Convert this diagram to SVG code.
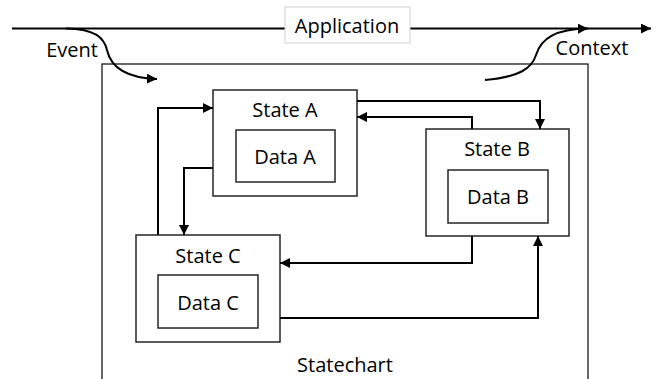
<svg xmlns="http://www.w3.org/2000/svg" width="657" height="379" viewBox="0 0 657 379">
  <style>
    .box { fill: #ffffff; stroke: #262626; stroke-width: 1.5; }
    .frame { fill: none; stroke: #1a1a1a; stroke-width: 1.3; }
    .lbl { font-family: "Open Sans", "Noto Sans", sans-serif; font-size: 20px; fill: #000; text-anchor: middle; }
    .wire { fill: none; stroke: #000; stroke-width: 2; }
  </style>
  <defs>
    <marker id="arrow" viewBox="0 0 10 10" refX="10" refY="5" markerWidth="5" markerHeight="5" orient="auto" markerUnits="strokeWidth">
      <path d="M0,0 L10,5 L0,10 z" fill="#000"/>
    </marker>
  </defs>

  <rect width="657" height="379" fill="#ffffff"/>

  <!-- Statechart frame (extends below the canvas) -->
  <g id="statechart">
    <rect class="frame" x="102" y="64" width="486" height="330"/>
    <text class="lbl" x="345" y="372">Statechart</text>
  </g>

  <!-- Application timeline -->
  <g id="application">
    <line class="wire" x1="12" y1="28.5" x2="651" y2="28.5" marker-end="url(#arrow)"/>
    <rect x="285" y="7" width="125" height="36" fill="#ffffff" stroke="#d0d0d0" stroke-width="1"/>
    <text class="lbl" x="347" y="33">Application</text>
  </g>

  <g id="state-a">
    <rect class="box" x="213" y="90" width="144" height="106"/>
    <text class="lbl" x="285" y="117">State A</text>
    <rect class="box" x="236" y="130" width="99" height="52"/>
    <text class="lbl" x="285" y="164">Data A</text>
  </g>

  <g id="state-b">
    <rect class="box" x="426" y="129" width="143" height="107"/>
    <text class="lbl" x="497" y="156">State B</text>
    <rect class="box" x="448" y="170" width="100" height="53"/>
    <text class="lbl" x="498" y="204">Data B</text>
  </g>

  <g id="state-c">
    <rect class="box" x="136" y="235" width="144" height="107"/>
    <text class="lbl" x="208" y="263">State C</text>
    <rect class="box" x="158" y="275" width="100" height="53"/>
    <text class="lbl" x="208" y="310">Data C</text>
  </g>

  <g id="labels">
    <text class="lbl" x="72" y="57">Event</text>
    <text class="lbl" x="592" y="55">Context</text>
  </g>

  <g id="connectors">
    <!-- event enters the statechart -->
    <path class="wire" d="M66,28.5 C96,29 104,38 107,50 C111,68 128,78 157,79" marker-end="url(#arrow)"/>
    <!-- context leaves the statechart -->
    <path class="wire" d="M485,80 C520,77 532,68 536,55 C541,38 556,29 588,28.5" marker-end="url(#arrow)"/>
    <!-- A -> B -->
    <path class="wire" d="M357,101 H540 V129" marker-end="url(#arrow)"/>
    <!-- B -> A -->
    <path class="wire" d="M472,129 V117 H357" marker-end="url(#arrow)"/>
    <!-- A -> C -->
    <path class="wire" d="M213,168 H184 V235" marker-end="url(#arrow)"/>
    <!-- C -> A -->
    <path class="wire" d="M158,235 V108 H213" marker-end="url(#arrow)"/>
    <!-- B -> C -->
    <path class="wire" d="M472,236 V263 H280" marker-end="url(#arrow)"/>
    <!-- C -> B -->
    <path class="wire" d="M280,318 H538 V236" marker-end="url(#arrow)"/>
  </g>
</svg>
